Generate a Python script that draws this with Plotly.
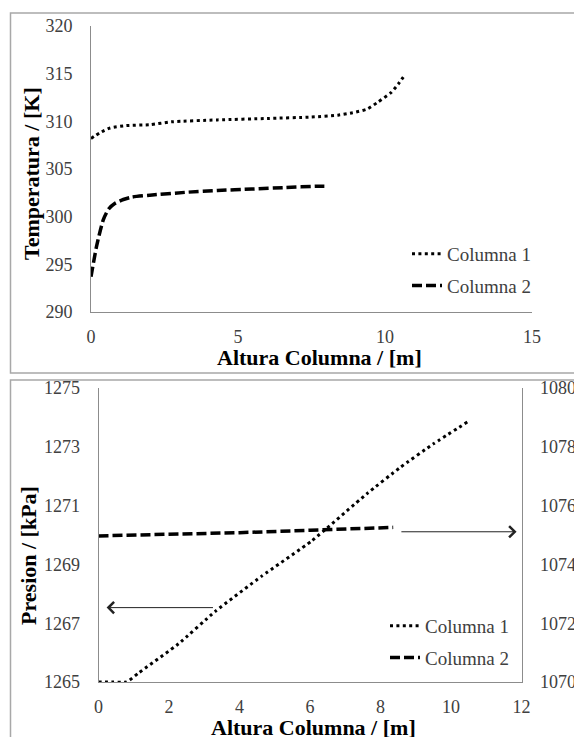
import plotly.graph_objects as go

W, H = 574, 737

# ---------------- data ----------------
# Top chart: Temperatura vs Altura
alt_c1_top = [0, 0.3, 0.65, 1.2, 2.0, 2.74, 4.3, 6.0, 7.5, 8.4, 8.9, 9.4, 9.75, 10.2, 10.45, 10.68]
temp_c1 = [308.2, 308.8, 309.3, 309.55, 309.65, 309.95, 310.15, 310.3, 310.45, 310.65, 310.9, 311.3, 312.0, 313.0, 313.9, 314.9]
alt_c2_top = [0, 0.19, 0.42, 0.6, 0.82, 1.1, 1.38, 2.0, 3.2, 4.3, 5.47, 6.6, 7.73, 8.0]
temp_c2 = [293.7, 296.9, 299.7, 300.8, 301.4, 301.8, 302.05, 302.25, 302.55, 302.75, 302.9, 303.05, 303.2, 303.2]

# Bottom chart: Presion vs Altura (Columna 1 left axis, Columna 2 right axis)
alt_c1_bot = [0, 0.4, 0.8, 1.13, 2.27, 3.31, 4.63, 6.05, 7.61, 8.56, 9.5, 10.54]
pres_c1 = [1265, 1265, 1265, 1265.3, 1266.3, 1267.4, 1268.6, 1269.8, 1271.4, 1272.3, 1273.1, 1273.9]
alt_c2_bot = [0, 2, 4, 6, 8.36]
pres_c2 = [1074.97, 1075.02, 1075.08, 1075.16, 1075.26]

series_names = ["Columna 1", "Columna 2"]
x_title = "Altura Columna / [m]"
y_title_top = "Temperatura / [K]"
y_title_bot = "Presion / [kPa]"

# arrows (tail -> tip) in data units of the bottom chart
arrow_left = dict(tail=(3.29, 1267.53), tip=(0.23, 1267.53))
arrow_right = dict(tail=(8.55, 1270.11), tip=(11.86, 1270.11))

# ---------------- layout helpers ----------------
def px_x(p):
    return p / W

def px_y(p):
    return 1 - p / H

SERIF = "Liberation Serif"
TICK_FONT = dict(family=SERIF, size=18, color="#404040")
TITLE_FONT = dict(family=SERIF, size=22, color="#000000")
LEGEND_FONT = dict(family=SERIF, size=19, color="#404040")
AX_COLOR = "#8c8c8c"

dot_line = dict(color="black", width=3, dash="3px,3.4px")
dash_line = dict(color="black", width=3.5, dash="10px,4px")

fig = go.Figure()

fig.add_trace(go.Scatter(x=alt_c1_top, y=temp_c1, mode="lines", name=series_names[0],
                         line=dict(**dot_line, shape="spline", smoothing=0.6),
                         xaxis="x", yaxis="y", legend="legend", legendgroup="a"))
fig.add_trace(go.Scatter(x=alt_c2_top, y=temp_c2, mode="lines", name=series_names[1],
                         line=dict(**dash_line, shape="spline", smoothing=0.6),
                         xaxis="x", yaxis="y", legend="legend", legendgroup="b"))
fig.add_trace(go.Scatter(x=alt_c1_bot, y=pres_c1, mode="lines", name=series_names[0],
                         line=dict(**dot_line, shape="spline", smoothing=0.4),
                         xaxis="x2", yaxis="y2", legend="legend2", legendgroup="c"))
fig.add_trace(go.Scatter(x=alt_c2_bot, y=pres_c2, mode="lines", name=series_names[1],
                         line=dict(**dash_line),
                         xaxis="x2", yaxis="y3", legend="legend2", legendgroup="d"))

common_axis = dict(showgrid=False, zeroline=False, showline=True, linecolor=AX_COLOR,
                   linewidth=1, ticks="", tickfont=TICK_FONT, fixedrange=True,
                   automargin=False)

fig.update_layout(
    width=W, height=H,
    margin=dict(l=0, r=0, t=0, b=0, autoexpand=False),
    paper_bgcolor="white", plot_bgcolor="white",
    xaxis=dict(domain=[px_x(91), px_x(532)], range=[0, 15], dtick=5, tick0=0,
               anchor="y", ticklabelstandoff=8, **common_axis),
    yaxis=dict(domain=[px_y(312), px_y(26)], range=[290, 320], dtick=5, tick0=290,
               anchor="x", ticklabelstandoff=14, **common_axis),
    xaxis2=dict(domain=[px_x(98.5), px_x(521.5)], range=[0, 12], dtick=2, tick0=0,
                anchor="y2", ticklabelstandoff=8, **common_axis),
    yaxis2=dict(domain=[px_y(682), px_y(388)], range=[1265, 1275], dtick=2, tick0=1265,
                anchor="x2", ticklabelstandoff=14, **common_axis),
    yaxis3=dict(range=[1070, 1080], dtick=2, tick0=1070, overlaying="y2", side="right",
                anchor="x2", ticklabelstandoff=14, **common_axis),
    legend=dict(x=px_x(407), y=px_y(235), xanchor="left", yanchor="top",
                font=LEGEND_FONT, bgcolor="rgba(0,0,0,0)",
                tracegroupgap=4, traceorder="grouped"),
    legend2=dict(x=px_x(385), y=px_y(607), xanchor="left", yanchor="top",
                 font=LEGEND_FONT, bgcolor="rgba(0,0,0,0)",
                 tracegroupgap=4, traceorder="grouped"),
    showlegend=True,
)

# panel borders
fig.add_shape(type="rect", xref="paper", yref="paper", x0=px_x(10.5), x1=1.05,
              y0=px_y(373), y1=px_y(13), line=dict(color="#a8a8a8", width=1.5), layer="below")
fig.add_shape(type="rect", xref="paper", yref="paper", x0=px_x(10.5), x1=1.05,
              y0=-0.05, y1=px_y(380), line=dict(color="#a8a8a8", width=1.5), layer="below")

# titles
fig.add_annotation(text="<b>%s</b>" % x_title, xref="paper", yref="paper",
                   x=px_x(319), y=px_y(357), showarrow=False, font=TITLE_FONT,
                   xanchor="center", yanchor="middle")
fig.add_annotation(text="<b>%s</b>" % x_title, xref="paper", yref="paper",
                   x=px_x(314), y=px_y(727), showarrow=False, font=TITLE_FONT,
                   xanchor="center", yanchor="middle")
fig.add_annotation(text="<b>%s</b>" % y_title_top, xref="paper", yref="paper",
                   x=px_x(31), y=px_y(174), showarrow=False, font=TITLE_FONT, textangle=-90,
                   xanchor="center", yanchor="middle")
fig.add_annotation(text="<b>%s</b>" % y_title_bot, xref="paper", yref="paper",
                   x=px_x(28), y=px_y(556), showarrow=False, font=TITLE_FONT, textangle=-90,
                   xanchor="center", yanchor="middle")

# arrows
for arr in (arrow_left, arrow_right):
    fig.add_annotation(x=arr["tip"][0], y=arr["tip"][1], ax=arr["tail"][0], ay=arr["tail"][1],
                       xref="x2", yref="y2", axref="x2", ayref="y2", text="",
                       showarrow=True, arrowhead=4, arrowsize=2.2, arrowwidth=1,
                       arrowcolor="#222222")

fig.write_html("out.html", config={"displayModeBar": False})
